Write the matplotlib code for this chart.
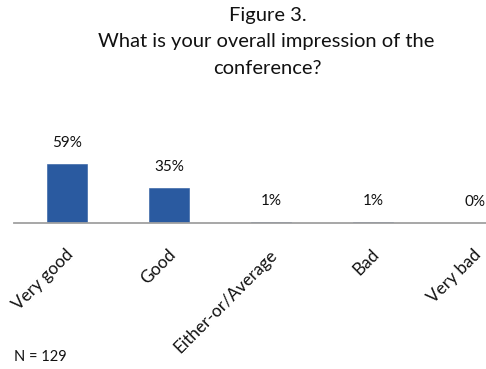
import matplotlib
matplotlib.use("Agg")
import matplotlib.pyplot as plt
from matplotlib.transforms import ScaledTranslation

categories = ["Very good", "Good", "Either-or/Average", "Bad", "Very bad"]
values = [59, 35, 1, 1, 0]
value_labels = ["59%", "35%", "1%", "1%", "0%"]
title_lines = ["Figure 3.", "What is your overall impression of the", "conference?"]
note = "N = 129"

plt.rcParams['font.family'] = ['Lato', 'DejaVu Sans']

W, H = 486, 369
fig = plt.figure(figsize=(W / 100, H / 100), dpi=100)
fig.patch.set_facecolor("white")

left_px, right_px, base_px, top_px = 14, 486, 223, 153
ax = fig.add_axes([left_px / W, (H - base_px) / H, (right_px - left_px) / W, (base_px - top_px) / H])

xs = list(range(len(categories)))
ax.bar(xs, values, width=0.39, color="#2A5AA0", edgecolor="#2A5AA0", linewidth=0.4)
ax.set_xlim(-0.52, 4.108)
ax.set_ylim(0, 70)

for x, v, lab in zip(xs, values, value_labels):
    ax.annotate(lab, (x, v), xytext=(0, 15), textcoords="offset points",
                ha="center", va="center", fontsize=11, color="#111111",
                annotation_clip=False)

for s in ["top", "left", "right"]:
    ax.spines[s].set_visible(False)
ax.spines["bottom"].set_color("#A0A0A0")
ax.spines["bottom"].set_linewidth(1.3)
ax.set_yticks([])
ax.set_xticks(xs)
ax.set_xticklabels(categories, rotation=45, ha="right", va="center",
                   rotation_mode="anchor", fontsize=12.4, color="#111111")
ax.tick_params(axis="x", length=0, pad=21)
shift = ScaledTranslation(4 / 100, 0, fig.dpi_scale_trans)
for t in ax.get_xticklabels():
    t.set_transform(t.get_transform() + shift)

fig.text(268 / W, 1 - 15 / H, title_lines[0], ha="center", va="center", fontsize=14.5, color="#111111")
fig.text(266 / W, 1 - 41 / H, title_lines[1], ha="center", va="center", fontsize=14.5, color="#111111")
fig.text(267 / W, 1 - 68 / H, title_lines[2], ha="center", va="center", fontsize=14.5, color="#111111")
fig.text(14 / W, 1 - 357 / H, note, ha="left", va="center", fontsize=10.5, color="#111111")

fig.savefig("out.png", dpi=100, facecolor="white")
